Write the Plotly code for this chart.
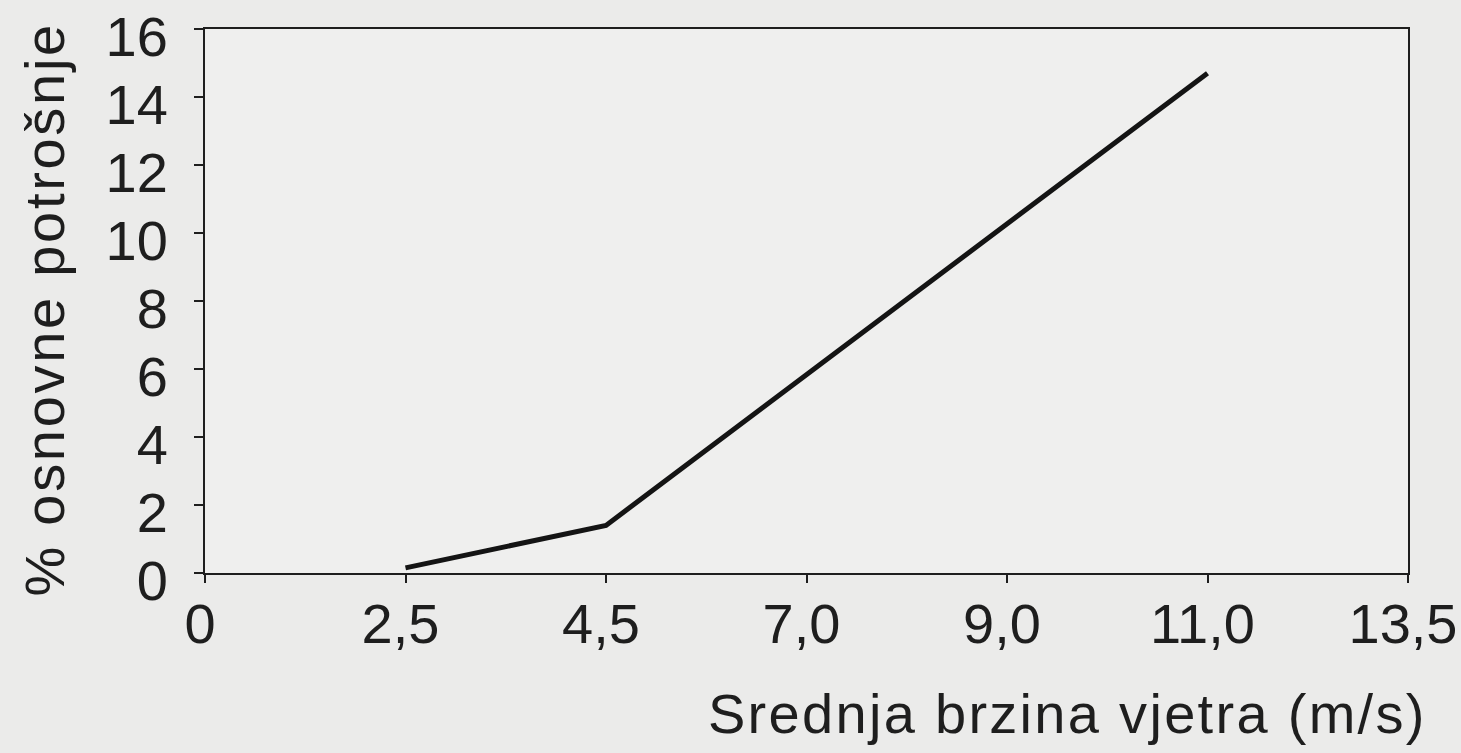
import plotly.graph_objects as go

# Data
x_categories = ["0", "2,5", "4,5", "7,0", "9,0", "11,0", "13,5"]
line_x = ["2,5", "4,5", "11,0"]
line_y = [0.15, 1.4, 14.7]
y_ticks = [0, 2, 4, 6, 8, 10, 12, 14, 16]

FONT = "Liberation Sans, Arial, Helvetica, sans-serif"
TXT = "#1e1e1e"
BG = "#ebebea"
FS_TICK = 56
FS_TITLE = 56

fig = go.Figure()
fig.add_trace(go.Scatter(
    x=line_x, y=line_y, mode="lines",
    line=dict(color="#141414", width=5),
    showlegend=False, hoverinfo="skip",
))

fig.update_layout(
    width=1461, height=753,
    margin=dict(l=205, r=53, t=29, b=180),
    paper_bgcolor=BG, plot_bgcolor="#efefee",
    font=dict(family=FONT, color=TXT, size=FS_TICK),
    xaxis=dict(
        type="category", categoryorder="array", categoryarray=x_categories,
        tickvals=x_categories, range=[0, 6], automargin=False,
        showgrid=False, zeroline=False,
        showline=True, linecolor="#1e1e1e", linewidth=2, mirror=True,
        ticks="outside", ticklen=8, tickwidth=1.5, tickcolor="#1e1e1e",
        tickfont=dict(size=FS_TICK, family=FONT, color=TXT),
        ticklabelstandoff=-7, ticklabelshift=-5, ticklabeloverflow="allow",
    ),
    yaxis=dict(
        range=[0, 16], tickvals=y_ticks, automargin=False,
        showgrid=False, zeroline=False,
        showline=True, linecolor="#1e1e1e", linewidth=2, mirror=True,
        ticks="outside", ticklen=9, tickwidth=1.5, tickcolor="#1e1e1e",
        tickfont=dict(size=FS_TICK, family=FONT, color=TXT),
        ticklabelstandoff=15, ticklabelshift=7, ticklabeloverflow="allow",
    ),
    annotations=[
        dict(text="% osnovne potrošnje", xref="paper", yref="paper",
             x=-0.1333, y=0.485, xanchor="center", yanchor="middle",
             textangle=-90, showarrow=False,
             font=dict(size=FS_TITLE, family=FONT, color=TXT)),
        dict(text="Srednja brzina vjetra (m/s)", xref="paper", yref="paper",
             x=0.717, y=-0.258, xanchor="center", yanchor="middle",
             showarrow=False,
             font=dict(size=FS_TITLE, family=FONT, color=TXT)),
    ],
)

post = """
document.body.style.margin='0';
var ts = document.querySelectorAll('.annotation-text');
ts.forEach(function(t){
  t.style.letterSpacing = (t.textContent.indexOf('%') === 0) ? '2.7px' : '2.3px';
});
"""
fig.write_html("out.html", post_script=post, config={"displayModeBar": False})
